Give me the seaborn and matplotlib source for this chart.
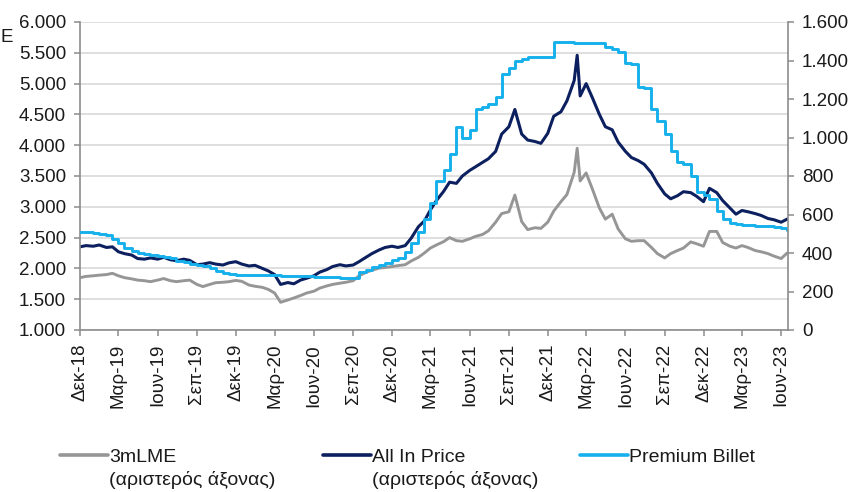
import matplotlib
matplotlib.use("Agg")
import matplotlib.pyplot as plt
from matplotlib.ticker import FuncFormatter
from matplotlib.lines import Line2D
import seaborn as sns
import pandas as pd

# ---------------------------------------------------------------- data
# semi-monthly observations (1st and 15th), plus the 8 Feb 2022 peak day
dates = list(pd.date_range("2018-12-01", periods=110, freq="SMS"))
dates.insert(77, pd.Timestamp("2022-02-08"))

# 3-month LME aluminium, left axis
lme_3m = [
    1850, 1870, 1880, 1890, 1900, 1920, 1880, 1850, 1830, 1810,
    1800, 1785, 1810, 1835, 1800, 1785, 1800, 1810, 1740, 1705,
    1740, 1768, 1775, 1784, 1805, 1790, 1730, 1710, 1693, 1660,
    1600, 1450, 1487, 1520, 1560, 1600, 1630, 1680, 1715, 1740,
    1760, 1775, 1800, 1880, 1935, 1970, 2005, 2015, 2030, 2045,
    2060, 2120, 2180, 2250, 2330, 2380, 2434, 2500, 2450, 2440,
    2480, 2520, 2550, 2610, 2750, 2890, 2920, 3190, 2760, 2630,
    2660, 2650, 2750, 2930, 3083, 3200, 3560,
    3950,
    3420, 3550, 3300,
    2980, 2800, 2880, 2640, 2480, 2440, 2450, 2450, 2340, 2240,
    2170, 2240, 2290, 2330, 2430, 2400, 2360, 2600, 2600, 2420,
    2360, 2330, 2370, 2340, 2290, 2270, 2240, 2200, 2160, 2250,
]

# all-in price, left axis
all_in = [
    2350, 2370, 2360, 2380, 2340, 2350, 2270, 2240, 2217, 2160,
    2150, 2170, 2150, 2180, 2140, 2125, 2150, 2130, 2060, 2070,
    2093, 2070, 2055, 2090, 2109, 2070, 2039, 2050, 2001, 1960,
    1900, 1740, 1770, 1750, 1811, 1840, 1880, 1940, 1980, 2030,
    2060, 2040, 2055, 2110, 2180, 2240, 2300, 2340, 2360, 2340,
    2370, 2490, 2677, 2770, 2948, 3100, 3250, 3400, 3380, 3500,
    3590, 3650, 3720, 3780, 3900, 4180, 4300, 4580, 4180, 4084,
    4060, 4030, 4192, 4470, 4543, 4720, 5050,
    5460,
    4800, 5000, 4780,
    4500, 4300, 4250, 4050, 3900, 3800, 3750, 3690, 3550, 3380,
    3210, 3130, 3180, 3245, 3230, 3170, 3083, 3300, 3230, 3100,
    2980, 2880, 2940, 2920, 2890, 2860, 2810, 2790, 2750, 2800,
]

# billet premium, right axis
premium_billet = [
    510, 508, 505, 500, 495, 475, 450, 425, 410, 400,
    395, 390, 385, 380, 375, 360, 355, 345, 340, 330,
    320, 305, 295, 290, 285, 285, 285, 285, 285, 284,
    284, 283, 283, 282, 280, 278, 276, 275, 274, 273,
    272, 272, 272, 303, 312, 326, 338, 350, 362, 376,
    405, 450, 510, 575, 660, 775, 831, 915, 1056, 1000,
    1039, 1150, 1160, 1175, 1210, 1330, 1360, 1395, 1410, 1420,
    1420, 1420, 1420, 1498, 1498, 1498, 1490,
    1490,
    1490, 1490, 1490,
    1490, 1470, 1460, 1446, 1385, 1380, 1264, 1255, 1150, 1085,
    1020, 930, 874, 860, 800, 715, 700, 680, 620, 575,
    556, 550, 546, 544, 542, 540, 538, 535, 528, 519,
]

series_names = ["3mLME", "All In Price", "Premium Billet"]
series_notes = ["(αριστερός άξονας)", "(αριστερός άξονας)", ""]

tick_dates = pd.date_range("2018-12-01", "2023-06-01", freq="3MS")
tick_labels = [
    "Δεκ-18", "Μαρ-19", "Ιουν-19", "Σεπ-19", "Δεκ-19", "Μαρ-20", "Ιουν-20",
    "Σεπ-20", "Δεκ-20", "Μαρ-21", "Ιουν-21", "Σεπ-21", "Δεκ-21", "Μαρ-22",
    "Ιουν-22", "Σεπ-22", "Δεκ-22", "Μαρ-23", "Ιουν-23",
]

left_ticks = list(range(1000, 6001, 500))
right_ticks = list(range(0, 1601, 200))

# ---------------------------------------------------------------- style
sns.set_theme(style="white")
plt.rcParams["font.family"] = ["Liberation Sans", "DejaVu Sans"]

GRAY = "#969696"
NAVY = "#0c1f5e"
CYAN = "#16b0ec"
SPINE = "#8c8c8c"
TEXT = "#1a1a1a"
FS = 13.5

W, H = 853, 492
fig = plt.figure(figsize=(W / 100, H / 100), dpi=100)
ax = fig.add_axes([80 / W, 1 - 330 / H, (788 - 80) / W, (330 - 22) / H])
ax2 = ax.twinx()

df = pd.DataFrame({"date": dates, "lme": lme_3m, "allin": all_in,
                   "billet": premium_billet})

sns.lineplot(data=df, x="date", y="lme", ax=ax, color=GRAY, lw=2.1)
sns.lineplot(data=df, x="date", y="allin", ax=ax, color=NAVY, lw=2.2)
sns.lineplot(data=df, x="date", y="billet", ax=ax2, color=CYAN, lw=2.1,
             drawstyle="steps-post")

fmt = FuncFormatter(lambda v, p: f"{v:,.0f}".replace(",", "."))

ax.set_xlim(pd.Timestamp("2018-12-01"), pd.Timestamp("2023-06-17"))
ax.set_ylim(1000, 6000)
ax2.set_ylim(0, 1600)
ax.set_yticks(left_ticks)
ax2.set_yticks(right_ticks)
ax.yaxis.set_major_formatter(fmt)
ax2.yaxis.set_major_formatter(fmt)
ax.set_xticks(tick_dates)
ax.set_xticklabels(tick_labels, rotation=90, ha="center", va="top")
ax.set_xlabel("")
ax.set_ylabel("")
ax2.set_ylabel("")

ax.set_axisbelow(True)
ax.yaxis.grid(True, color="#d9d9d9", lw=1.2)
ax.xaxis.grid(False)
ax2.grid(False)

for a in (ax, ax2):
    for s in a.spines.values():
        s.set_visible(False)
ax.spines["left"].set_visible(True)
ax.spines["bottom"].set_visible(True)
ax2.spines["right"].set_visible(True)
for s in (ax.spines["left"], ax.spines["bottom"], ax2.spines["right"]):
    s.set_color(SPINE)
    s.set_linewidth(1.2)

ax.tick_params(axis="y", which="major", left=True, direction="out",
               length=4, width=1.1, color=SPINE, labelsize=FS,
               labelcolor=TEXT, pad=6)
ax.tick_params(axis="x", which="major", bottom=True, direction="out",
               length=4, width=1.1, color=SPINE, labelsize=FS,
               labelcolor=TEXT, pad=6)
ax2.tick_params(axis="y", which="major", right=True, direction="out",
                length=4, width=1.1, color=SPINE, labelsize=FS,
                labelcolor=TEXT, pad=6)

fig.text(1 / W, 1 - 38 / H, "E", ha="left", va="center", fontsize=FS,
         color=TEXT)

# ---------------------------------------------------------------- legend
legend_font = {"family": ["Liberation Sans Narrow", "Liberation Sans"],
               "size": 14}
lines = [ax.lines[0], ax.lines[1], ax2.lines[0]]
entry_x = [60, 323, 580]
legends = []
for ln, name, x0 in zip(lines, series_names, entry_x):
    h = Line2D([], [], color=ln.get_color(), lw=2.6)
    leg = fig.legend([h], [name], loc="center left",
                     bbox_to_anchor=(x0 / W, 1 - 457 / H), frameon=False,
                     borderpad=0, borderaxespad=0, handlelength=2.45,
                     handletextpad=0.08, prop=legend_font)
    for t in leg.get_texts():
        t.set_color(TEXT)
    legends.append(leg)

fig.canvas.draw()
renderer = fig.canvas.get_renderer()
for leg, note in zip(legends, series_notes):
    if not note:
        continue
    bb = leg.get_texts()[0].get_window_extent(renderer)
    fig.text(bb.x0 / W, 1 - 480 / H, note, ha="left", va="center",
             fontfamily=legend_font["family"], fontsize=legend_font["size"],
             color=TEXT)

fig.savefig("out.png", dpi=100)
